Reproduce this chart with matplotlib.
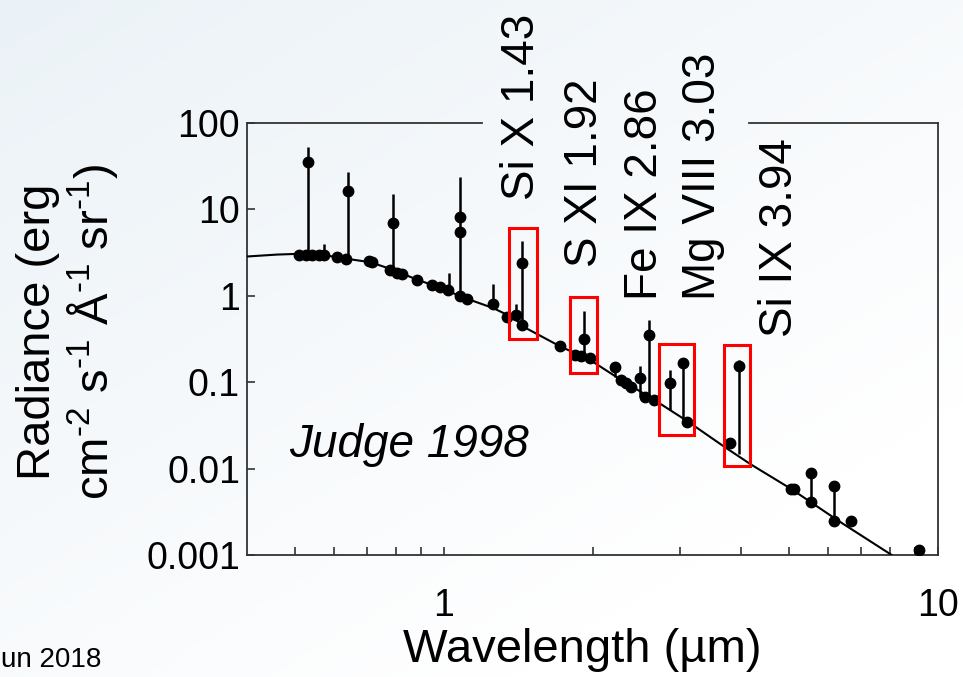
import numpy as np
import matplotlib
matplotlib.use("Agg")
import matplotlib.pyplot as plt
from matplotlib.patches import Rectangle
from matplotlib.colors import LinearSegmentedColormap

plt.rcParams["font.family"] = ["Liberation Sans", "DejaVu Sans"]
plt.rcParams["mathtext.fontset"] = "custom"
plt.rcParams["mathtext.rm"] = "Liberation Sans"
plt.rcParams["mathtext.it"] = "Liberation Sans:italic"

# continuum model (wavelength in um, radiance)
model_wl = [0.40, 0.46, 0.50, 0.57, 0.64, 0.71, 0.79, 0.88, 0.98, 1.10, 1.26,
            1.38, 1.47, 1.72, 1.98, 2.28, 2.66, 3.12, 3.69, 4.18, 5.05, 6.28, 8.06, 8.3]
model_rad = [2.85, 3.0, 3.05, 2.97, 2.67, 2.45, 2.0, 1.55, 1.25, 0.95, 0.72,
             0.56, 0.42, 0.26, 0.18, 0.107, 0.063, 0.035, 0.018, 0.0112, 0.0058,
             0.0025, 0.001, 0.0008]

# measured continuum points
cont_wl = [0.510, 0.527, 0.542, 0.560, 0.573, 0.608, 0.635, 0.707, 0.717, 0.777,
           0.803, 0.825, 0.885, 0.945, 0.982, 1.019, 1.078, 1.114, 1.258, 1.345,
           1.400, 1.440, 1.721, 1.846, 1.900, 1.981, 2.279, 2.333, 2.388, 2.550,
           2.660, 3.103, 3.796, 5.05, 5.12, 5.546, 6.147, 6.656, 9.15]
cont_rad = [3.0, 3.0, 3.0, 3.0, 2.95, 2.82, 2.67, 2.5, 2.47, 2.0,
            1.84, 1.78, 1.53, 1.34, 1.27, 1.17, 0.99, 0.92, 0.81, 0.57,
            0.60, 0.46, 0.265, 0.209, 0.20, 0.19, 0.107, 0.097, 0.088, 0.068,
            0.063, 0.035, 0.020, 0.0058, 0.0058, 0.0041, 0.0025, 0.0025, 0.00115]

# emission lines: base on continuum, measured value, upper limit
line_wl = [0.532, 0.641, 0.791, 1.078, 1.440, 1.925, 2.226, 2.491, 2.598,
           2.866, 3.045, 3.959, 5.546, 6.147]
line_base = [3.0, 2.7, 2.0, 0.97, 0.46, 0.198, 0.115, 0.068, 0.063,
             0.048, 0.035, 0.0147, 0.0041, 0.0025]
line_val = [35.1, 16.3, 6.95, 8.15, 2.40, 0.32, 0.148, 0.113, 0.355,
            0.099, 0.169, 0.152, 0.00885, 0.00627]
line_top = [52.3, 26.9, 15.0, 23.6, 4.31, 0.67, 0.173, 0.156, 0.53,
            0.140, 0.175, 0.183, 0.00885, 0.00627]
extra_wl = [1.078]
extra_val = [5.47]

# weak features with upper limits only
tick_wl = [0.573, 1.024, 1.258, 1.400]
tick_base = [2.97, 1.17, 0.79, 0.60]
tick_top = [3.98, 1.84, 1.38, 0.80]

# highlighted lines (x0, x1, y0, y1)
box_x0 = [1.355, 1.803, 2.723, 3.690]
box_x1 = [1.545, 2.046, 3.207, 4.169]
box_y0 = [0.32, 0.129, 0.0243, 0.01066]
box_y1 = [6.09, 0.974, 0.279, 0.272]

line_names = ["Si X 1.43", "S XI 1.92", "Fe IX 2.86", "Mg VIII 3.03", "Si IX 3.94"]

W, H = 963, 677
fig = plt.figure(figsize=(W / 100, H / 100), dpi=100)

# soft background gradient
bg = fig.add_axes([0, 0, 1, 1], zorder=-10)
gx, gy = np.meshgrid(np.linspace(0, 1, 200), np.linspace(0, 1, 200))
grad = 0.65 * gx + 0.75 * gy
cmap = LinearSegmentedColormap.from_list("bg", ["#ebf2f7", "#ffffff"])
bg.imshow(grad, cmap=cmap, aspect="auto", extent=[0, 1, 0, 1], origin="upper",
          vmin=0, vmax=1.1)
bg.axis("off")

ax = fig.add_axes([247 / W, 1 - 555 / H, (938 - 247) / W, (555 - 123) / H])
ax.set_facecolor("none")
ax.set_xscale("log")
ax.set_yscale("log")
ax.set_xlim(0.4, 10)
ax.set_ylim(0.001, 100)

ax.plot(model_wl, model_rad, color="black", lw=1.5, zorder=3)
ax.vlines(line_wl, line_base, line_top, color="black", lw=1.8, zorder=4)
ax.vlines(tick_wl, tick_base, tick_top, color="black", lw=1.8, zorder=4)
ax.plot(cont_wl, cont_rad, "o", color="black", ms=7.5, zorder=5)
ax.plot(line_wl, line_val, "o", color="black", ms=7.5, zorder=5)
ax.plot(extra_wl, extra_val, "o", color="black", ms=7.5, zorder=5)

for x0, x1, y0, y1 in zip(box_x0, box_x1, box_y0, box_y1):
    ax.add_patch(Rectangle((x0, y0), x1 - x0, y1 - y0, fill=False,
                           edgecolor="#ff0000", lw=2.2, zorder=6))

# axis frame, top edge broken under the line labels
spine_col = "#333333"
for side in ["left", "right", "bottom"]:
    ax.spines[side].set_color(spine_col)
    ax.spines[side].set_linewidth(1.3)
ax.spines["top"].set_visible(False)
gap0 = (482 - 247) / (938 - 247)
gap1 = (749 - 247) / (938 - 247)
ax.plot([0, gap0], [1, 1], transform=ax.transAxes, color=spine_col, lw=1.3,
        clip_on=False)
ax.plot([gap1, 1], [1, 1], transform=ax.transAxes, color=spine_col, lw=1.3,
        clip_on=False)

ax.set_xticks([1, 10])
ax.set_xticklabels(["1", "10"])
ax.set_xticks([0.5, 0.6, 0.7, 0.8, 0.9, 2, 3, 4, 5, 6, 7, 8, 9], minor=True)
ax.xaxis.set_minor_formatter(plt.NullFormatter())
ax.set_yticks([0.001, 0.01, 0.1, 1, 10, 100])
ax.set_yticklabels(["0.001", "0.01", "0.1", "1", "10", "100"])
ax.yaxis.set_minor_locator(plt.NullLocator())
ax.tick_params(axis="x", which="both", direction="in", length=6, width=1.2,
               color=spine_col, labelsize=27, pad=24, top=False)
ax.tick_params(axis="y", direction="in", length=6, width=1.2, color=spine_col,
               labelsize=27, pad=5, right=False)

fig.text(582 / W, 1 - 650 / H, "Wavelength (µm)", fontsize=34, ha="center",
         va="center")
fig.text(68 / W, 1 - 332 / H,
         "Radiance (erg\ncm$^{\\text{-2}}$ s$^{\\text{-1}}$ Å$^{\\text{-1}}$ sr$^{\\text{-1}}$)",
         fontsize=34, rotation=90, ha="center", va="center",
         multialignment="center", linespacing=1.1)

ax.text(0.487, 0.019, "Judge 1998", fontsize=33, style="italic",
        ha="left", va="center")

label_x = [522, 585, 645, 703, 780]
label_y = [200, 267, 300, 300, 337]
for name, lx, ly in zip(line_names, label_x, label_y):
    fig.text(lx / W, 1 - ly / H, name, fontsize=33, rotation=90,
             ha="center", va="bottom")

fig.text(1 / W, 1 - 660 / H, "un 2018", fontsize=20, ha="left",
         va="center")

fig.savefig("out.png", dpi=100)
